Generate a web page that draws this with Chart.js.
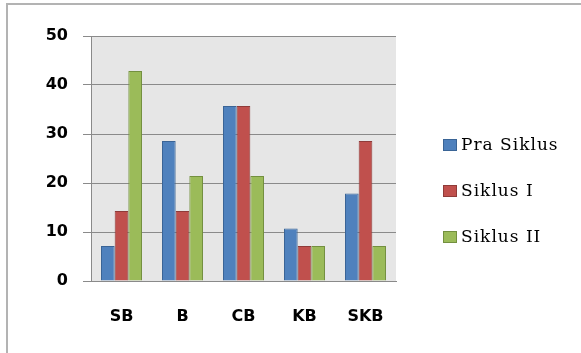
<!DOCTYPE html>
<html>
<head>
<meta charset="utf-8">
<script src="https://cdn.jsdelivr.net/npm/chart.js@4/dist/chart.umd.min.js"></script>
<style>
  html, body { margin: 0; padding: 0; background: #ffffff; }
  #wrap { position: relative; width: 581px; height: 353px; overflow: hidden; }
  #frame { position: absolute; left: 6px; top: 3px; width: 600px; height: 400px;
           border-left: 2px solid #b3b3b3; border-top: 2px solid #b3b3b3; pointer-events: none; }
  canvas { position: absolute; left: 0; top: 0; }
</style>
</head>
<body>
<div id="wrap">
  <canvas id="chart" width="581" height="353"></canvas>
  <div id="frame"></div>
</div>
<script>
// Categories and percentage values per cycle
const categories = ['SB', 'B', 'CB', 'KB', 'SKB'];
const praSiklus = [7.14, 28.57, 35.71, 10.71, 17.86];
const siklusI = [14.29, 14.29, 35.71, 7.14, 28.57];
const siklusII = [42.86, 21.43, 21.43, 7.14, 7.14];
const seriesNames = ['Pra Siklus', 'Siklus I', 'Siklus II'];
const yTicks = [0, 10, 20, 30, 40, 50];

const fills = ['#4f81bd', '#c0504d', '#9bbb59'];
const edges = ['#3a6496', '#8f3b39', '#73903f'];

// Grey fill behind the plot area
const plotBackground = {
  id: 'plotBackground',
  beforeDraw(chart) {
    const { ctx, chartArea: a } = chart;
    ctx.save();
    ctx.fillStyle = '#e6e6e6';
    ctx.fillRect(a.left, a.top, a.right - a.left, a.bottom - a.top);
    ctx.restore();
  }
};

// Legend stacked on the right, one row per dataset
const sideLegend = {
  id: 'sideLegend',
  afterDraw(chart) {
    const { ctx } = chart;
    ctx.save();
    chart.data.datasets.forEach((ds, i) => {
      const cy = 145 + i * 46;
      ctx.fillStyle = ds.backgroundColor;
      ctx.fillRect(443, cy - 6, 14, 12);
      ctx.strokeStyle = ds.borderColor;
      ctx.lineWidth = 1;
      ctx.strokeRect(443.5, cy - 5.5, 13, 11);
      ctx.fillStyle = '#000000';
      ctx.font = '17px "DejaVu Serif", "Liberation Serif", serif';
      if ('letterSpacing' in ctx) ctx.letterSpacing = '1px';
      ctx.textBaseline = 'middle';
      ctx.textAlign = 'left';
      ctx.fillText(ds.label, 461, cy + 1);
    });
    ctx.restore();
  }
};

const seriesValues = [praSiklus, siklusI, siklusII];

new Chart(document.getElementById('chart'), {
  type: 'bar',
  data: {
    labels: categories,
    datasets: seriesNames.map((name, i) => ({
      label: name,
      data: seriesValues[i],
      backgroundColor: fills[i],
      borderColor: edges[i],
      borderWidth: 1,
      categoryPercentage: 0.672,
      barPercentage: 1.0
    }))
  },
  options: {
    responsive: false,
    animation: false,
    devicePixelRatio: 1,
    layout: { padding: { left: 0, top: 36, right: 185, bottom: 0 } },
    plugins: {
      legend: { display: false },
      tooltip: { enabled: false }
    },
    scales: {
      x: {
        grid: { display: false, drawTicks: false },
        border: { display: true, color: '#8a8a8a', width: 1 },
        ticks: {
          color: '#000000',
          padding: 26,
          font: { family: '"DejaVu Sans", sans-serif', size: 16, weight: 'bold' }
        },
        afterFit(scale) { scale.height = 72; }
      },
      y: {
        min: 0,
        max: 50,
        afterBuildTicks(scale) { scale.ticks = yTicks.map(v => ({ value: v })); },
        grid: { color: '#8a8a8a', lineWidth: 1, tickLength: 8, drawTicks: true },
        border: { display: true, color: '#8a8a8a', width: 1 },
        ticks: {
          color: '#000000',
          padding: 15,
          font: { family: '"DejaVu Sans", sans-serif', size: 16, weight: 'bold' }
        },
        afterFit(scale) { scale.width = 91; }
      }
    }
  },
  plugins: [plotBackground, sideLegend]
});
</script>
</body>
</html>
